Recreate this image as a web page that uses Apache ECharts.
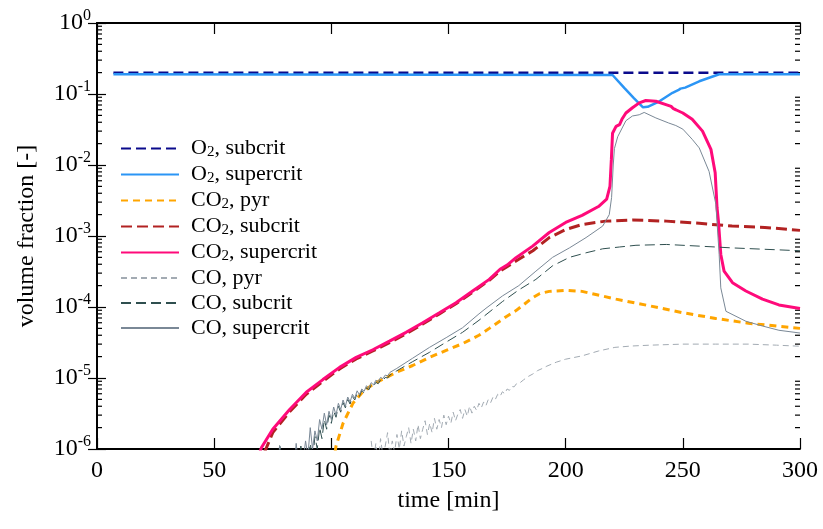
<!DOCTYPE html>
<html>
<head>
<meta charset="utf-8">
<script src="https://cdn.jsdelivr.net/npm/echarts@6/dist/echarts.min.js"></script>
<style>
html, body { margin: 0; padding: 0; background: #fff; }
#chart { width: 823px; height: 529px; }
</style>
</head>
<body>
<div id="chart"></div>
<script>
var serif = 'Liberation Serif';

var xTicks = [0, 50, 100, 150, 200, 250, 300];
var yDecades = [1e-6, 1e-5, 1e-4, 1e-3, 1e-2, 1e-1];
var minorSteps = [2, 3, 4, 5, 6, 7, 8, 9];

var names = ['O2, subcrit', 'O2, supercrit', 'CO2, pyr', 'CO2, subcrit', 'CO2, supercrit',
             'CO, pyr', 'CO, subcrit', 'CO, supercrit'];

// [time min, volume fraction]
var o2Subcrit = [[7, 0.2], [300, 0.2]];
var o2Supercrit = [[7, 0.19], [220, 0.185], [225, 0.122], [229, 0.088], [233, 0.065], [235, 0.066],
    [240, 0.079], [245.6, 0.104], [248, 0.113], [249, 0.119], [251, 0.123], [257, 0.151],
    [265.5, 0.19], [300, 0.19]];

var co2Pyr = [[101.6, 9e-7], [102, 1.1e-6], [105, 2.3e-6], [109.2, 4.4e-6], [113.4, 6.4e-6],
    [117.5, 8.0e-6], [120.5, 9.1e-6], [127.7, 1.2e-5], [134.7, 1.5e-5], [141.9, 1.95e-5],
    [149, 2.45e-5], [156, 3.05e-5], [163, 4.0e-5], [167.4, 5.0e-5], [174.6, 7.3e-5], [178.8, 8.9e-5],
    [185.9, 1.35e-4], [189, 1.55e-4], [193, 1.66e-4], [200, 1.72e-4], [207, 1.66e-4], [221.5, 1.29e-4],
    [235.7, 1.04e-4], [250, 8.3e-5], [264, 6.9e-5], [278, 5.9e-5], [300, 5.0e-5]];

var co2Subcrit = [[71.5, 9e-7], [75, 1.7e-6], [82.2, 3.35e-6], [89.3, 5.9e-6], [96.4, 9.0e-6],
    [103.5, 1.34e-5], [110.6, 1.86e-5], [117.7, 2.4e-5], [124.8, 3.15e-5], [131.9, 4.2e-5],
    [139, 5.75e-5], [146.1, 8.0e-5], [153.2, 1.11e-4], [160.3, 1.62e-4], [167.4, 2.38e-4],
    [172, 3.2e-4], [175, 3.7e-4], [180, 4.7e-4], [186, 6.2e-4], [193, 9.5e-4], [200, 1.23e-3],
    [207, 1.45e-3], [217, 1.62e-3], [228.5, 1.68e-3], [243, 1.62e-3], [257, 1.51e-3], [271, 1.38e-3],
    [285, 1.32e-3], [300, 1.2e-3]];

var co2Supercrit = [[69.5, 9e-7], [70.2, 1.05e-6], [75, 1.9e-6], [82.2, 3.6e-6], [89.3, 6.3e-6],
    [96.4, 9.5e-6], [103.5, 1.41e-5], [110.6, 1.95e-5], [117.7, 2.5e-5], [124.8, 3.3e-5],
    [131.9, 4.4e-5], [139, 6.0e-5], [146.1, 8.3e-5], [153.2, 1.15e-4], [160.3, 1.68e-4],
    [167.4, 2.45e-4], [172, 3.4e-4], [175, 3.9e-4], [178.8, 4.95e-4], [185.9, 7.2e-4], [193, 1.12e-3],
    [200, 1.55e-3], [207, 1.95e-3], [214, 2.6e-3], [217.5, 3.3e-3], [218.9, 5.0e-3], [219.5, 1.2e-2],
    [220, 2.8e-2], [221.5, 3.5e-2], [223, 3.7e-2], [224, 4.4e-2], [225.7, 5.4e-2], [228.5, 6.4e-2],
    [231.4, 7.5e-2], [234.2, 8.1e-2], [238.5, 7.9e-2], [242.8, 7.1e-2], [245, 6.7e-2], [246, 6.2e-2],
    [247, 6.0e-2], [250, 5.4e-2], [254, 4.4e-2], [258.4, 3.0e-2], [262, 1.66e-2], [263.8, 7.8e-3],
    [264.6, 2.5e-3], [265.2, 1.6e-3], [266.2, 5.5e-4], [267.6, 3.2e-4], [271.2, 2.2e-4],
    [276.9, 1.68e-4], [284, 1.29e-4], [291, 1.07e-4], [300, 9.5e-5]];

var coPyr = [[117, 1.3e-6], [118, 7e-7], [119, 1.2e-6], [120, 6e-7], [121, 1.4e-6], [122, 8e-7],
    [123, 1.1e-6], [124, 1.7e-6], [125, 8e-7], [126, 1.3e-6], [127, 9e-7], [128, 1.6e-6],
    [129, 1.0e-6], [130, 1.8e-6], [131, 1.1e-6], [132, 1.5e-6], [133, 2.0e-6], [134, 1.2e-6],
    [135, 1.9e-6], [136, 1.3e-6], [137, 2.2e-6], [138, 1.4e-6], [139, 1.9e-6], [140, 2.5e-6],
    [141, 1.6e-6], [142, 2.3e-6], [143, 1.7e-6], [144, 2.7e-6], [145, 1.9e-6], [146, 2.6e-6],
    [147, 2.0e-6], [148, 3.0e-6], [149, 2.2e-6], [150, 2.9e-6], [151, 2.3e-6], [152, 3.3e-6],
    [153, 2.5e-6], [154, 3.1e-6], [155, 3.6e-6], [156, 2.7e-6], [157, 3.6e-6], [158, 2.9e-6],
    [159, 4.0e-6], [160, 3.2e-6], [161, 4.0e-6], [162, 3.5e-6], [163, 4.4e-6], [164, 3.8e-6],
    [165, 4.6e-6], [166, 4.1e-6], [167, 5.0e-6], [168, 4.5e-6], [169, 5.4e-6], [170, 5.0e-6],
    [171, 5.9e-6], [172, 5.5e-6], [173, 6.4e-6], [174, 6.0e-6], [175, 7.0e-6], [176, 6.7e-6],
    [177, 7.6e-6], [178, 7.5e-6], [179, 8.3e-6], [180, 8.3e-6], [182, 9.4e-6], [184, 1.05e-5],
    [186, 1.14e-5], [188, 1.27e-5], [190, 1.36e-5], [192, 1.47e-5], [196, 1.67e-5], [200, 1.84e-5],
    [207, 2.05e-5], [214, 2.4e-5], [221, 2.7e-5], [228, 2.82e-5], [236, 2.9e-5], [250, 3.0e-5],
    [264, 3.0e-5], [278, 3.0e-5], [290, 2.9e-5], [300, 2.8e-5]];

var coSubcrit = [[77, 5e-7], [78, 1.2e-6], [79, 5e-7], [86, 5e-7], [87, 1.1e-6], [88, 5e-7],
    [90, 6e-7], [91, 1.2e-6], [92, 7e-7], [93, 1.5e-6], [94, 1.0e-6], [95, 2.0e-6], [96, 1.4e-6],
    [97, 2.6e-6], [98, 1.9e-6], [99, 3.0e-6], [100, 2.3e-6], [101, 3.4e-6], [102, 2.8e-6],
    [103, 4.0e-6], [104, 3.3e-6], [105, 4.5e-6], [106, 3.8e-6], [107, 5.0e-6], [108, 4.3e-6],
    [109, 5.5e-6], [110, 4.9e-6], [111, 6.1e-6], [112, 5.5e-6], [113, 6.7e-6], [114, 6.1e-6],
    [115, 7.3e-6], [116, 6.8e-6], [117, 8.0e-6], [118, 7.6e-6], [119, 8.7e-6], [120, 8.3e-6],
    [121, 9.4e-6], [122, 9.1e-6], [123, 1.02e-5], [124, 1.0e-5], [125, 1.1e-5], [127.7, 1.25e-5],
    [134.7, 1.7e-5], [141.9, 2.3e-5], [149, 3.2e-5], [156, 4.4e-5], [163, 6.5e-5], [173, 1.19e-4],
    [180, 1.74e-4], [187.3, 2.45e-4], [194.4, 3.8e-4], [201.6, 5.0e-4], [208.7, 5.8e-4],
    [215.8, 6.6e-4], [223, 7.0e-4], [230, 7.4e-4], [243, 7.6e-4], [257, 7.2e-4], [271, 6.8e-4],
    [285, 6.5e-4], [300, 6.2e-4]];

var coSupercrit = [[77, 5e-7], [78, 1.1e-6], [79, 5e-7], [84, 5e-7], [85, 1.2e-6], [86, 6e-7],
    [88, 7e-7], [89, 1.3e-6], [90, 8e-7], [91, 2.0e-6], [92, 1.0e-6], [93, 1.8e-6], [94, 1.3e-6],
    [95, 2.6e-6], [96, 1.9e-6], [97, 3.2e-6], [98, 2.2e-6], [99, 3.4e-6], [100, 2.6e-6],
    [101, 3.9e-6], [102, 3.0e-6], [103, 4.4e-6], [104, 3.6e-6], [105, 4.9e-6], [106, 4.0e-6],
    [107, 5.4e-6], [108, 4.6e-6], [109, 5.9e-6], [110, 5.2e-6], [111, 6.6e-6], [112, 5.8e-6],
    [113, 7.0e-6], [114, 6.5e-6], [115, 7.8e-6], [116, 7.2e-6], [117, 8.6e-6], [118, 8.0e-6],
    [119, 9.3e-6], [120, 8.9e-6], [121, 1.02e-5], [122, 9.8e-6], [123, 1.1e-5], [124, 1.07e-5],
    [125, 1.2e-5], [127.7, 1.35e-5], [134.7, 1.9e-5], [141.9, 2.7e-5], [149, 3.7e-5], [156, 5.1e-5],
    [163, 8.0e-5], [166, 9.6e-5], [173, 1.43e-4], [180, 2.0e-4], [187.3, 3.2e-4], [194.4, 5.0e-4],
    [201.6, 6.8e-4], [208.7, 9.5e-4], [215.8, 1.38e-3], [218.6, 2.0e-3], [219.6, 3.5e-3],
    [220.3, 1.0e-2], [220.8, 1.7e-2], [222.2, 2.5e-2], [225.7, 4.2e-2], [228.5, 4.9e-2],
    [231.4, 5.1e-2], [233.5, 5.5e-2], [238.5, 4.6e-2], [244, 3.9e-2], [247, 3.6e-2], [250, 3.2e-2],
    [254, 2.3e-2], [257, 1.74e-2], [261.2, 8.1e-3], [264.1, 2.8e-3], [265.5, 5.5e-4],
    [266.2, 1.86e-4], [268.4, 8.7e-5], [276.9, 6.3e-5], [284, 5.4e-5], [291, 4.7e-5], [300, 4.3e-5]];

var minorTicks = [];
yDecades.forEach(function (d) {
    minorSteps.forEach(function (k) { minorTicks.push([0, d * k]); });
});

function lineSeries(name, data, color, width, dash) {
    return {
        name: name,
        type: 'line',
        data: data,
        symbol: 'none',
        clip: true,
        lineStyle: { color: color, width: width, type: dash || 'solid' },
        itemStyle: { color: color }
    };
}

var option = {
    animation: false,
    grid: { left: 97, right: 23, top: 23, bottom: 80 },
    legend: {
        orient: 'vertical',
        left: 120,
        top: 137,
        padding: 0,
        itemWidth: 58,
        itemHeight: 14,
        itemGap: 3,
        itemStyle: { opacity: 0 },
        data: names,
        formatter: function (name) {
            var m = name.match(/^(CO2|O2|CO)(.*)$/);
            if (m[1] === 'CO') return '{p|CO}{t|' + m[2] + '}';
            return '{p|' + m[1].slice(0, -1) + '}{s|2}{t|' + m[2] + '}';
        },
        textStyle: {
            rich: {
                p: { fontFamily: serif, fontSize: 22, color: '#000', lineHeight: 22, padding: [0, 0, 0, 7] },
                t: { fontFamily: serif, fontSize: 22, color: '#000', lineHeight: 22 },
                s: { fontFamily: serif, fontSize: 15, color: '#000', lineHeight: 22, padding: [8, 0, 0, 0] }
            }
        }
    },
    xAxis: [{
        type: 'value',
        min: 0,
        max: 300,
        interval: 50,
        name: 'time [min]',
        nameLocation: 'middle',
        nameGap: 40,
        nameTextStyle: { fontFamily: serif, fontSize: 24, color: '#000' },
        axisLine: { lineStyle: { color: '#000', width: 1.8 } },
        axisTick: { inside: true, length: 11, lineStyle: { color: '#000', width: 1.2 } },
        axisLabel: { fontFamily: serif, fontSize: 24, color: '#000', margin: 10,
            formatter: function (v) { return xTicks.indexOf(v) >= 0 ? String(v) : ''; } },
        splitLine: { show: false }
    }, {
        type: 'value',
        position: 'top',
        min: 0,
        max: 300,
        interval: 50,
        axisLine: { lineStyle: { color: '#000', width: 1.8 } },
        axisTick: { inside: true, length: 11, lineStyle: { color: '#000', width: 1.2 } },
        axisLabel: { show: false },
        splitLine: { show: false }
    }],
    yAxis: [{
        type: 'log',
        logBase: 10,
        min: 1e-6,
        max: 1,
        name: 'volume fraction [-]',
        nameLocation: 'middle',
        nameGap: 58,
        nameTextStyle: { fontFamily: serif, fontSize: 24, color: '#000' },
        axisLine: { show: true, lineStyle: { color: '#000', width: 1.8 } },
        axisTick: { inside: true, length: 9, lineStyle: { color: '#000', width: 1.2 } },
        axisLabel: {
            margin: 6,
            formatter: function (v) {
                var e = Math.round(Math.log10(v));
                return '{b|10}{e|' + e + '}';
            },
            rich: {
                b: { fontFamily: serif, fontSize: 24, color: '#000' },
                e: { fontFamily: serif, fontSize: 16, color: '#000', padding: [0, 0, 14, 0] }
            }
        },
        splitLine: { show: false }
    }, {
        type: 'log',
        logBase: 10,
        min: 1e-6,
        max: 1,
        position: 'right',
        axisLine: { show: true, lineStyle: { color: '#000', width: 1.8 } },
        axisTick: { inside: true, length: 9, lineStyle: { color: '#000', width: 1.2 } },
        axisLabel: { show: false },
        splitLine: { show: false }
    }],
    series: [
        lineSeries(names[0], o2Subcrit, '#0a0a8c', 2.5, [10, 5]),
        lineSeries(names[1], o2Supercrit, '#2b95f5', 2.5),
        lineSeries(names[2], co2Pyr, '#ffa500', 3, [7, 5]),
        lineSeries(names[3], co2Subcrit, '#b22222', 3, [11, 5]),
        lineSeries(names[4], co2Supercrit, '#ff0a7a', 3),
        lineSeries(names[5], coPyr, '#a3abb3', 1, [6, 4]),
        lineSeries(names[6], coSubcrit, '#2f4f4f', 1, [10, 5]),
        lineSeries(names[7], coSupercrit, '#7a8896', 1),
        {
            name: 'minor ticks',
            type: 'custom',
            silent: true,
            data: minorTicks,
            encode: { x: 0, y: 1 },
            renderItem: function (params, api) {
                var v = api.value(1);
                var l = api.coord([0, v]);
                var r = api.coord([300, v]);
                var st = { stroke: '#000', lineWidth: 1.2 };
                return {
                    type: 'group',
                    children: [
                        { type: 'line', shape: { x1: l[0], y1: l[1], x2: l[0] + 5, y2: l[1] }, style: st },
                        { type: 'line', shape: { x1: r[0] - 5, y1: r[1], x2: r[0], y2: r[1] }, style: st }
                    ]
                };
            }
        }
    ]
};

var chart = echarts.init(document.getElementById('chart'));
chart.setOption(option);
</script>
</body>
</html>
